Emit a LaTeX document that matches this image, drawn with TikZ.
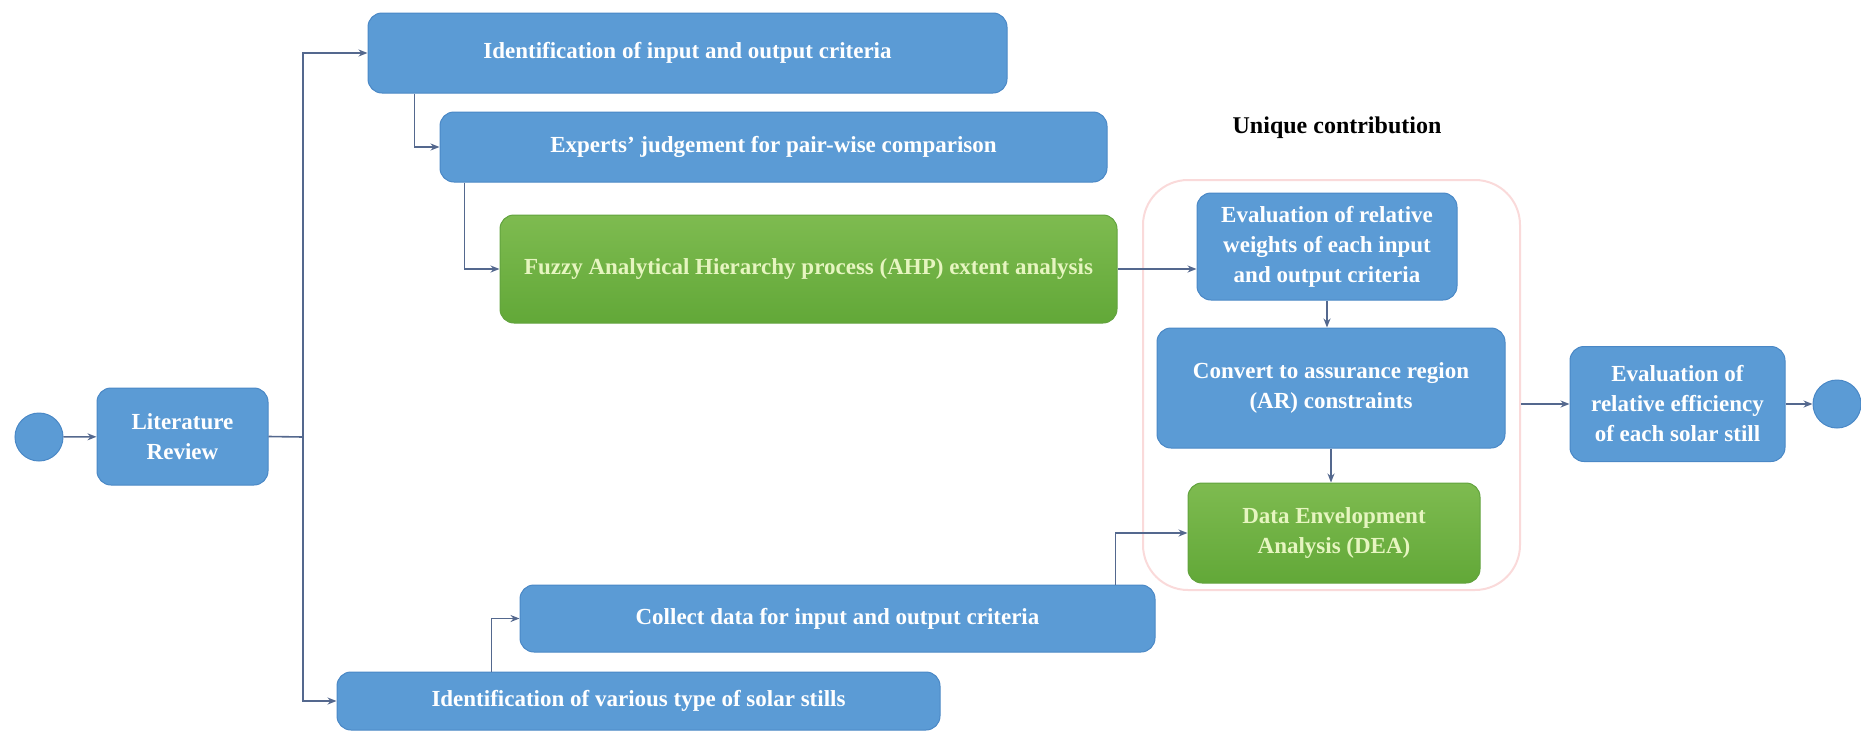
\documentclass[tikz,border=0pt]{standalone}
\usepackage{fontspec}
\setmainfont{Liberation Serif}
\usetikzlibrary{arrows.meta,calc}
\definecolor{boxblue}{RGB}{91,155,213}
\definecolor{boxblueedge}{RGB}{74,136,198}
\definecolor{greentop}{RGB}{126,187,80}
\definecolor{greenbot}{RGB}{98,168,56}
\definecolor{greenedge}{RGB}{98,163,62}
\definecolor{greentext}{RGB}{230,245,192}
\definecolor{linkcol}{RGB}{84,104,142}
\definecolor{pinkedge}{RGB}{250,218,218}
\begin{document}
\begin{tikzpicture}[x=1pt,y=-1pt,
  boxfont/.style={font=\fontsize{23}{30}\selectfont\bfseries},
  bluebox/.style={rectangle, rounded corners=14pt, fill=boxblue, draw=boxblueedge, line width=1pt, text=white, boxfont, align=center, inner sep=0pt},
  greenbox/.style={rectangle, rounded corners=14pt, top color=greentop, bottom color=greenbot, draw=greenedge, line width=1pt, text=greentext, boxfont, align=center, inner sep=0pt},
  terminal/.style={circle, fill=boxblue, draw=boxblueedge, line width=1pt, minimum size=48pt, inner sep=0pt},
  link/.style={draw=linkcol, line width=1.6pt, -{Stealth[length=9pt,width=7pt]}},
  plainlink/.style={draw=linkcol, line width=1.6pt}
]
\useasboundingbox (0,0) rectangle (1861,731);

% unique contribution frame
\node[rectangle, draw=pinkedge, line width=2pt, rounded corners=45pt, minimum width=377pt, minimum height=410pt] (uc) at (1331.5,385) {};
\node[font=\fontsize{24}{28}\selectfont\bfseries, text=black] (uclabel) at (1337,128) {Unique contribution};

% nodes
\node[terminal] (start) at (39,437) {};
\node[bluebox, minimum width=171pt, minimum height=97pt] (lit) at (182.5,436.5) {Literature\\Review};
\node[bluebox, minimum width=639pt, minimum height=80pt] (ident) at (687.5,53) {Identification of input and output criteria};
\node[bluebox, minimum width=667pt, minimum height=70pt] (expert) at (773.5,147) {Experts' judgement for pair-wise comparison};
\node[greenbox, minimum width=617pt, minimum height=108pt] (fuzzy) at (808.5,269) {Fuzzy Analytical Hierarchy process (AHP) extent analysis};
\node[bluebox, minimum width=260pt, minimum height=107pt] (evalw) at (1327,246.5) {Evaluation of relative\\weights of each input\\and output criteria};
\node[bluebox, minimum width=348pt, minimum height=120pt] (conv) at (1331,388) {Convert to assurance region\\(AR) constraints};
\node[greenbox, minimum width=292pt, minimum height=100pt] (dea) at (1334,533) {Data Envelopment\\Analysis (DEA)};
\node[bluebox, minimum width=635pt, minimum height=67pt] (collect) at (837.5,618.5) {Collect data for input and output criteria};
\node[bluebox, minimum width=603pt, minimum height=58pt] (identvar) at (638.5,701) {Identification of various type of solar stills};
\node[bluebox, minimum width=215pt, minimum height=115pt] (evaleff) at (1677.5,404) {Evaluation of\\relative efficiency\\of each solar still};
\node[terminal] (end) at (1837,404) {};

% connectors
\coordinate (trunk) at (303,437);
\draw[link] (start) -- (lit);
\draw[plainlink] (lit.east) -- (trunk);
\draw[link] (trunk) |- (ident.west);
\draw[link] (trunk) |- (identvar.west);
\draw[link] ([xshift=47pt]ident.south west) |- (expert.west);
\draw[link] ([xshift=25pt]expert.south west) |- (fuzzy.west);
\draw[link] (fuzzy.east) -- (fuzzy.east -| evalw.west);
\draw[link] (evalw.south) -- (evalw.south |- conv.north);
\draw[link] (conv.south) -- (conv.south |- dea.north);
\draw[link] ([xshift=155pt]identvar.north west) |- (collect.west);
\draw[link] ([xshift=-40pt]collect.north east) |- (dea.west);
\draw[link] (evaleff.west -| uc.east) -- (evaleff.west);
\draw[link] (evaleff) -- (end);
\end{tikzpicture}
\end{document}
